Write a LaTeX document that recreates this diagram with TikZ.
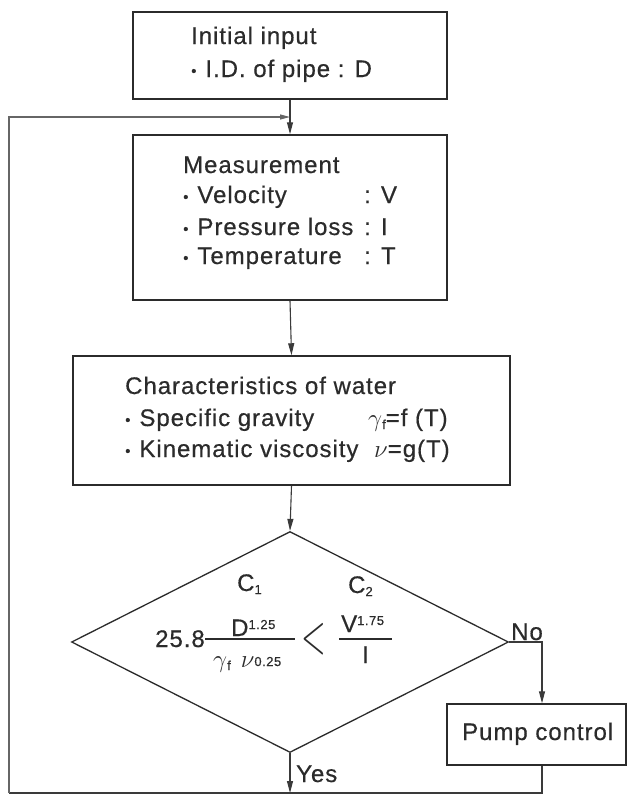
\documentclass[tikz,border=0pt]{standalone}
\usepackage{fontspec}
\setmainfont{Liberation Sans}[LetterSpace=4,FakeBold=0.5]
\usetikzlibrary{arrows.meta,shapes.geometric,calc}
\definecolor{ink}{HTML}{2B2B2B}
\definecolor{wire}{HTML}{3A3A3A}
\definecolor{loopc}{HTML}{666666}
\newcommand\bul{\raisebox{1pt}{\fontsize{15}{15}\selectfont •}\hspace{9pt}}
\newcommand\smallfs{\fontsize{13}{13}\selectfont}
\tikzset{
  box/.style={draw=ink, line width=1.5pt, rectangle, inner sep=0pt},
  txt/.style={font=\fontsize{24}{28}\selectfont, text=ink, inner sep=0pt, anchor=base west},
  conn/.style={draw=wire, line width=1.1pt},
  arr/.style={conn, -{Triangle[length=12pt,width=6pt]}},
}
\begin{document}
\begin{tikzpicture}[x=1pt,y=-1pt]
\useasboundingbox (0,0) rectangle (630,796);
\fill[white] (0,0) rectangle (630,796);

% boxes
\node[box, minimum width=314pt, minimum height=87pt] (init) at (290,55.5) {};
\node[box, minimum width=314pt, minimum height=165pt] (meas) at (290,217.5) {};
\node[box, minimum width=437pt, minimum height=129pt] (char) at (291.5,420.5) {};
\node[draw=ink, line width=1.3pt, diamond, inner sep=0pt, minimum width=437pt, minimum height=221pt] (dec) at (290,642) {};
\node[box, minimum width=179pt, minimum height=61pt] (pump) at (536.5,734.5) {};

% initial input
\node[txt] (t1) at (191,44) {Initial input};
\node[txt] (t2) at (191,77) {\bul I.D. of pipe : D};

% measurement
\node[txt] (m0) at (183,173) {Measurement};
\node[txt] (m1) at (183,203) {\bul Velocity};
\node[txt] (m2) at (183,235) {\bul Pressure loss};
\node[txt] (m3) at (183,264) {\bul Temperature};
\node[txt] (m1v) at (364,203) {: V};
\node[txt] (m2v) at (364,235) {: I};
\node[txt] (m3v) at (364,264) {: T};

% characteristics
\node[txt] (c0) at (125,394) {Characteristics of water};
\node[txt] (c1) at (125,426) {\bul Specific gravity};
\node[txt] (c2) at (125,457) {\bul Kinematic viscosity};
\node[txt] (c1f) at (368,426) {$\gamma$\raisebox{-3pt}{\smallfs f}=f (T)};
\node[txt] (c2f) at (374,457) {$\nu$=g(T)};

% decision
\node[txt] (k1) at (237,591) {C\raisebox{-3pt}{\smallfs 1}};
\node[txt] (k2) at (348,593) {C\raisebox{-3pt}{\smallfs 2}};
\node[txt, anchor=base east] (n258) at (205,647) {25.8};
\node[txt] (numD) at (231,636) {D\raisebox{7pt}{\smallfs 1.25}};
\node[txt] (denL) at (213,667) {$\gamma$\raisebox{-3pt}{\smallfs f}\hspace{10pt}$\nu$\raisebox{1pt}{\smallfs 0.25}};
\node[inner sep=0pt, text=ink] (lt) at (314,639) {\scalebox{1.3}[2.3]{\fontsize{26}{26}\selectfont$<$}};
\node[txt] (numV) at (341,632) {V\raisebox{7pt}{\smallfs 1.75}};
\node[txt] (denI) at (362,663) {I};
\draw[ink, line width=1.1pt] (205,639) -- (295,639);
\draw[ink, line width=1.1pt] (339,639) -- (392,639);

\node[txt] (no) at (511,640) {No};
\node[txt] (yes) at (296,782) {Yes};
\node[txt] (pt) at (462,740) {Pump control};

% connectors
\coordinate (nocorner) at (542,642);
\coordinate (pbot) at (542,793);
\coordinate (ybot) at (290,793);
\coordinate (bl) at (9,793);
\coordinate (tl) at (9,117);
\coordinate (join) at (290,117);

\draw[arr] (init.south) -- (meas.north);
\draw[arr] (meas.south) -- (char.north);
\draw[arr] (char.south) -- (dec.north);
\draw[arr] (dec.east) -- (nocorner) -- (nocorner |- pump.north);
\draw[arr] (dec.south) -- (ybot);
\draw[conn] (nocorner |- pump.south) -- (pbot) -- (bl);
\draw[draw=loopc, line width=1.1pt, -{Triangle[length=10pt,width=5pt]}] (bl) -- (tl) -- (join);
\end{tikzpicture}
\end{document}
